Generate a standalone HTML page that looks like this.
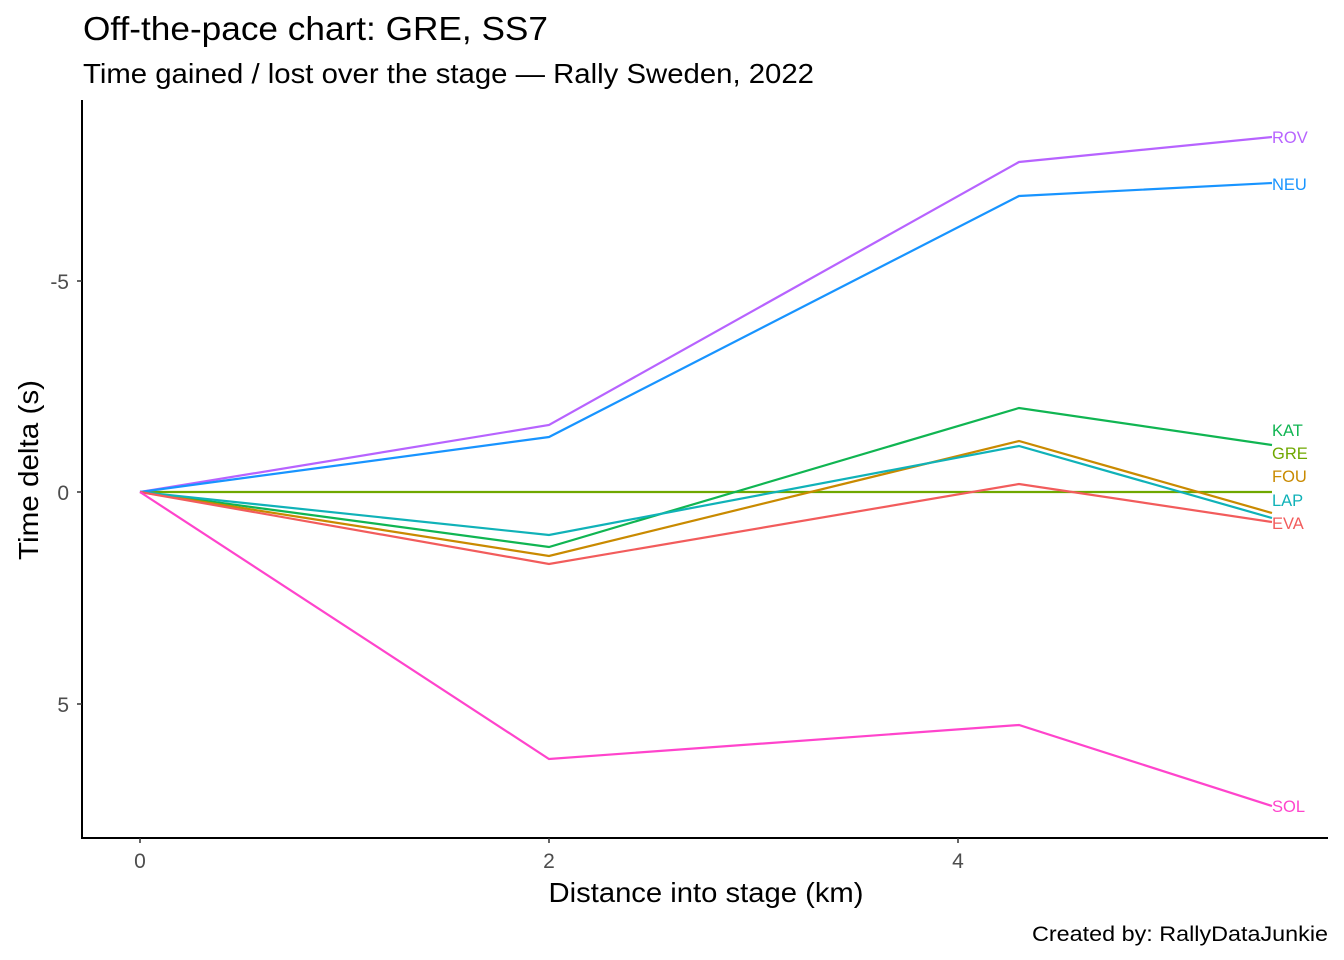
<!DOCTYPE html>
<html><head><meta charset="utf-8"><style>body{margin:0;background:#fff}svg{display:block}text{font-family:"Liberation Sans",Arial,sans-serif}</style></head>
<body>
<svg width="1344" height="960" viewBox="0 0 1344 960" xmlns="http://www.w3.org/2000/svg">
<rect width="1344" height="960" fill="#fff"/>
<text x="83" y="40" font-size="33.5" fill="#000" textLength="465" lengthAdjust="spacingAndGlyphs">Off-the-pace chart: GRE, SS7</text>
<text x="83" y="83" font-size="27.5" fill="#000" textLength="731" lengthAdjust="spacingAndGlyphs">Time gained / lost over the stage — Rally Sweden, 2022</text>
<g fill="none" stroke-width="2.2">
<polyline stroke="#6FA800" points="140,492 549,492 1019,492 1272,492"/>
<polyline stroke="#B763FF" points="140,492 549,425 1019,162 1272,137"/>
<polyline stroke="#1894FF" points="140,492 549,437 1019,196 1272,183"/>
<polyline stroke="#10B552" points="140,492 549,547 1019,408 1272,445"/>
<polyline stroke="#C98A00" points="140,492 549,556 1019,441 1272,513"/>
<polyline stroke="#10B2B8" points="140,492 549,535 1019,446 1272,518"/>
<polyline stroke="#F25C5C" points="140,492 549,564 1019,484 1272,522"/>
<polyline stroke="#FF44CC" points="140,492 549,759 1019,725 1272,806"/>
</g>
<g font-size="16.5">
<text x="1272" y="143" fill="#B763FF">ROV</text>
<text x="1272" y="190" fill="#1894FF">NEU</text>
<text x="1272" y="436" fill="#10B552">KAT</text>
<text x="1272" y="459" fill="#6FA800">GRE</text>
<text x="1272" y="482" fill="#C98A00">FOU</text>
<text x="1272" y="506" fill="#10B2B8">LAP</text>
<text x="1272" y="529" fill="#F25C5C">EVA</text>
<text x="1272" y="812" fill="#FF44CC">SOL</text>
</g>
<g stroke="#000" stroke-width="2"><line x1="82" y1="100" x2="82" y2="839"/><line x1="81" y1="838" x2="1328" y2="838"/></g>
<g stroke="#333" stroke-width="1.5"><line x1="77" y1="281" x2="82" y2="281"/><line x1="77" y1="492" x2="82" y2="492"/><line x1="77" y1="704" x2="82" y2="704"/>
<line x1="140" y1="838" x2="140" y2="843"/><line x1="549" y1="838" x2="549" y2="843"/><line x1="958" y1="838" x2="958" y2="843"/></g>
<g font-size="21" fill="#4d4d4d" text-anchor="end"><text x="69" y="289">-5</text><text x="69" y="500">0</text><text x="69" y="712">5</text></g>
<g font-size="21" fill="#4d4d4d" text-anchor="middle"><text x="140" y="868">0</text><text x="549" y="868">2</text><text x="958" y="868">4</text></g>
<text x="706" y="902" font-size="28" text-anchor="middle" textLength="315" lengthAdjust="spacingAndGlyphs">Distance into stage (km)</text>
<text transform="translate(38,470) rotate(-90)" font-size="28" text-anchor="middle" textLength="180" lengthAdjust="spacingAndGlyphs">Time delta (s)</text>
<text x="1328" y="941" font-size="21.5" text-anchor="end" textLength="296" lengthAdjust="spacingAndGlyphs">Created by: RallyDataJunkie</text>
</svg>
</body></html>
